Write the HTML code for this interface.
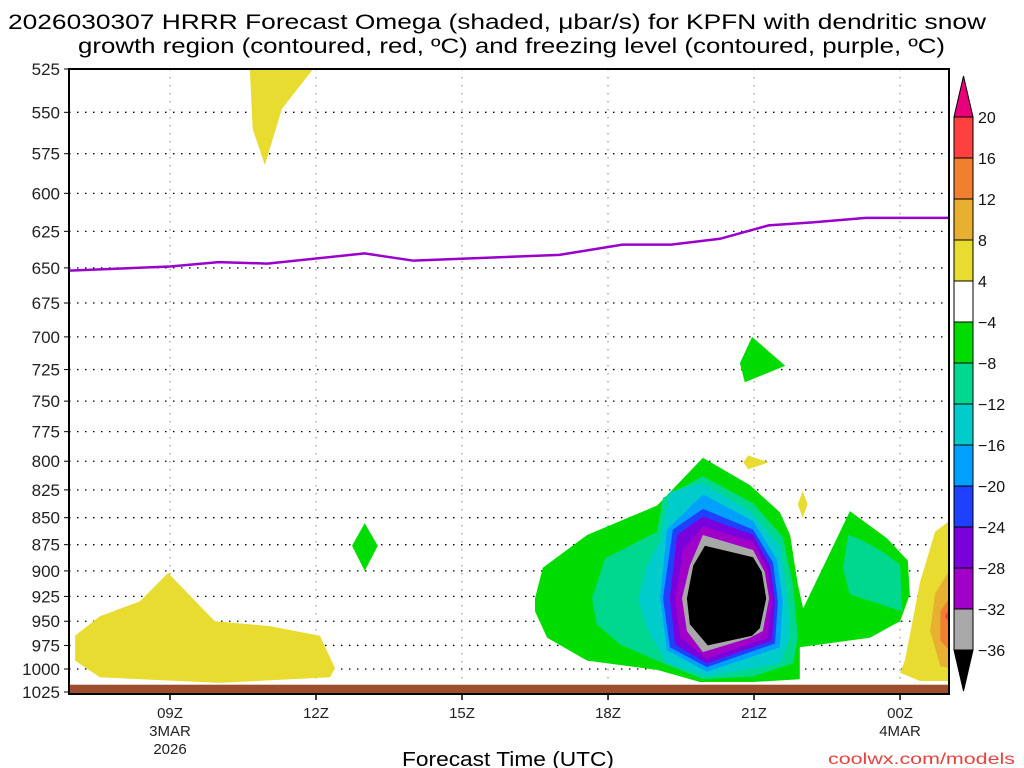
<!DOCTYPE html>
<html><head><meta charset="utf-8">
<style>
html,body{margin:0;padding:0;background:#fff;}
svg{display:block;font-family:"Liberation Sans",sans-serif;}
</style></head>
<body>
<svg id="chart" width="1024" height="768" viewBox="0 0 1024 768" xmlns="http://www.w3.org/2000/svg">
<defs><clipPath id="plotclip"><rect x="69" y="69" width="880" height="625"/></clipPath></defs>
<text x="8" y="29" font-size="21" textLength="978" lengthAdjust="spacingAndGlyphs">2026030307 HRRR Forecast Omega (shaded, μbar/s) for KPFN with dendritic snow</text>
<text x="78" y="53" font-size="21" textLength="867" lengthAdjust="spacingAndGlyphs">growth region (contoured, red, ºC) and freezing level (contoured, purple, ºC)</text>
<g id="grid"></g>
<g id="shading" clip-path="url(#plotclip)"></g>
<g id="axes"></g>
<g id="cbar"></g>
<text x="508" y="766" font-size="20" text-anchor="middle" textLength="212" lengthAdjust="spacingAndGlyphs">Forecast Time (UTC)</text>
<text x="1015" y="764" font-size="16" text-anchor="end" fill="#e8403c" textLength="187" lengthAdjust="spacingAndGlyphs">coolwx.com/models</text>
</svg>
<script>
const pTicks=[525,550,575,600,625,650,675,700,725,750,775,800,825,850,875,900,925,950,975,1000,1025];
const xTickHours=[9,12,15,18,21,24];
const xTickLabels=["09Z","12Z","15Z","18Z","21Z","00Z"];
const xDateLabels={9:["3MAR","2026"],24:["4MAR"]};
const cbarColors=["#ff4040","#f08030","#e8b030","#e8dc30","#ffffff","#00dc00","#00d890","#00cccc","#00a0ff","#2040ff","#7a00dc","#a000c8","#a8a8a8"];
const cbarLabels=["20","16","12","8","4","−4","−8","−12","−16","−20","−24","−28","−32","−36"];
const freezeHours=[6.9,9,10,11,13,14,17,18.3,19.3,20.3,21.3,22.2,23.3,25];
const freezeP=[652,649,646,647,640,645,641,634,634,630,621,619,616,616];
const shapes=[
 {c:"#e8dc30",h:[10.64,11.94,11.3,10.95,10.7],p:[525,525,548,582,560]},
 {c:"#e8dc30",h:[7.05,7.56,8.38,8.96,9.92,11.05,12.08,12.39,12.29,10.03,7.56,7.05],p:[965,945,930,902,950,955,965,999,1009,1015,1009,991]},
 {c:"#00dc00",h:[13.0,13.27,13.0,12.74],p:[855,876,900,876]},
 {c:"#00dc00",h:[20.96,21.64,20.81,20.71],p:[700,722,735,720]},
 {c:"#e8dc30",h:[20.88,21.3,20.88,20.78],p:[795,801,807,801]},
 {c:"#e8dc30",h:[22.0,22.1,22.0,21.9],p:[826,838,850,838]},
 {c:"#00dc00",h:[16.5,16.66,17.57,19.01,19.95,20.92,21.53,21.74,21.9,22.01,22.97,23.73,24.16,24.2,24.0,23.38,21.94,21.94,20.98,19.89,19.01,17.57,16.75,16.5],p:[927,897,866,839,797,821,845,866,913,937,844,869,890,923,950,967,977,1011,1014,1014,1001,991,967,940]},
 {c:"#00d890",h:[17.67,17.94,19.01,19.13,19.95,20.98,21.59,21.8,21.9,21.8,20.98,19.95,19.13,18.25,17.77],p:[927,888,863,832,813,837,868,913,967,994,1008,1011,994,974,953]},
 {c:"#00d890",h:[22.93,23.18,23.65,24.0,24.04,22.97,22.83],p:[866,870,882,894,940,923,898]},
 {c:"#00cccc",h:[18.62,18.8,19.07,19.27,19.95,20.92,21.53,21.68,21.74,21.53,20.03,19.21,18.8],p:[927,895,871,827,819,844,876,920,967,994,1008,994,957]},
 {c:"#00a0ff",h:[19.07,19.21,19.95,20.98,21.47,21.59,21.53,20.03,19.21],p:[927,861,829,853,889,930,977,1003,980]},
 {c:"#2040ff",h:[19.13,19.33,19.95,20.98,21.39,21.49,21.43,20.03,19.27],p:[927,861,842,861,892,930,973,998,977]},
 {c:"#7a00dc",h:[19.27,19.42,19.95,20.98,21.33,21.43,21.37,20.03,19.38],p:[927,866,849,866,895,930,970,994,974]},
 {c:"#a000c8",h:[19.38,19.54,19.95,20.98,21.27,21.37,21.27,20.03,19.48],p:[927,880,858,872,898,930,967,989,967]},
 {c:"#a8a8a8",h:[19.52,19.68,19.95,20.98,21.22,21.31,21.18,20.92,19.95,19.62],p:[927,895,866,880,901,927,960,967,982,960]},
 {c:"#000000",h:[19.62,19.75,19.99,20.98,21.16,21.25,21.12,20.96,20.05,19.68],p:[927,895,876,887,901,927,957,965,975,953]},
 {c:"#e8dc30",h:[25.1,24.72,24.41,24.1,24.0,24.41,25.1],p:[850,863,911,991,1004,1013,1013]},
 {c:"#e8b030",h:[25.1,24.72,24.62,24.83,25.1],p:[893,922,960,997,1000]},
 {c:"#f08030",h:[25.1,24.83,24.83,25.1],p:[920,940,970,985]},
 {c:"#ff4040",h:[25.1,24.92,25.1],p:[930,945,958]}
];
const groundP=1017;
</script>
<script>
const NS="http://www.w3.org/2000/svg";
const L=69,R=949,T=69,B=694;
function X(h){return 170+(h-9)*48.67;}
const K=(692-69)/Math.log(1025/525);
function Y(p){return 69+K*Math.log(p/525);}
function mk(tag,attrs,parent){const e=document.createElementNS(NS,tag);for(const k in attrs)e.setAttribute(k,attrs[k]);parent.appendChild(e);return e;}
const grid=document.getElementById('grid'),sh=document.getElementById('shading'),ax=document.getElementById('axes'),cb=document.getElementById('cbar');
// grid
pTicks.forEach(p=>{const y=Y(p);
 const g=mk('line',{x1:L,x2:R,y1:y,y2:y,stroke:'#000','stroke-width':1.3,'stroke-dasharray':'1.5 6.5'},grid);
 
 
 const t=mk('line',{x1:L-5,x2:L,y1:y,y2:y,stroke:'#000','stroke-width':1},ax);
 
 
 const lab=mk('text',{x:60,y:y+6,'font-size':17,'text-anchor':'end',fill:'#222'},ax);
 lab.textContent=p;
 
 
});
xTickHours.forEach((h,i)=>{const x=X(h);
 const g=mk('line',{x1:x,x2:x,y1:T,y2:B,stroke:'#999','stroke-width':1.2,'stroke-dasharray':'1.5 6.5'},grid);
 
 
 const t=mk('line',{x1:x,x2:x,y1:B,y2:B+6,stroke:'#000','stroke-width':1.5},ax);
 
 
 const lab=mk('text',{x:x,y:718,'font-size':15,'text-anchor':'middle',fill:'#222'},ax);
 lab.textContent=xTickLabels[i];
 
 
 (xDateLabels[h]||[]).forEach((s,j)=>{const d=mk('text',{x:x,y:736+j*18,'font-size':15,'text-anchor':'middle',fill:'#222'},ax);
  d.textContent=s;
  
  });
});
// shading
shapes.forEach(s=>{const pts=s.h.map((h,i)=>X(h).toFixed(1)+','+Y(s.p[i]).toFixed(1)).join(' ');
 const e=mk('polygon',{points:pts,fill:s.c},sh);
 
 
});
const gr=mk('rect',{x:L,y:Y(groundP),width:R-L,height:B-Y(groundP),fill:'#9c4f2c'},sh);


const fl=mk('polyline',{points:freezeHours.map((h,i)=>X(h)+','+Y(freezeP[i])).join(' '),fill:'none',stroke:'#9900cc','stroke-width':2.5},sh);


const fr=mk('rect',{x:L,y:T,width:R-L,height:B-T,fill:'none',stroke:'#000','stroke-width':2},ax);


// colorbar
const cx=954,cw=19,c0=117,cs=41;
const tt=mk('polygon',{points:`${cx},${c0} ${cx+cw},${c0} ${cx+cw/2},${c0-41}`,fill:'#e8007a',stroke:'#000','stroke-width':1},cb);


cbarColors.forEach((c,i)=>{const r=mk('rect',{x:cx,y:c0+i*cs,width:cw,height:cs,fill:c,stroke:'#000','stroke-width':1},cb);
 
 });
const bot=c0+cbarColors.length*cs;
const bt=mk('polygon',{points:`${cx},${bot} ${cx+cw},${bot} ${cx+cw/2},${bot+41}`,fill:'#000',stroke:'#000','stroke-width':1},cb);


cbarLabels.forEach((s,i)=>{const t=mk('text',{x:978,y:c0+i*cs+6,'font-size':16,fill:'#111'},cb);
 t.textContent=s;
 
 });
</script>
</body></html>
